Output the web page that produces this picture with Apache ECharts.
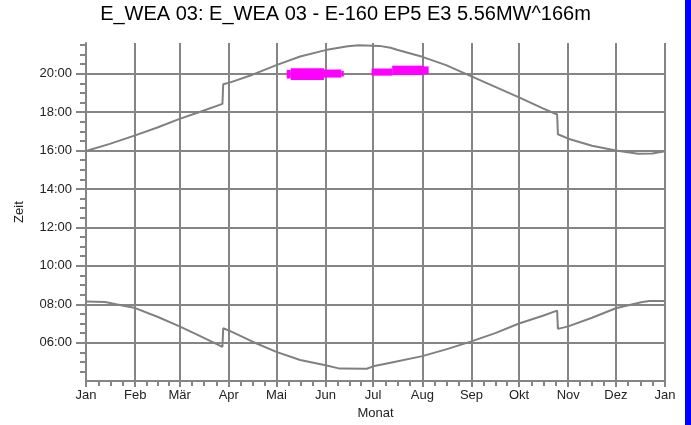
<!DOCTYPE html>
<html>
<head>
<meta charset="utf-8">
<script src="https://cdn.jsdelivr.net/npm/echarts@6/dist/echarts.min.js"></script>
<style>
  html, body { margin: 0; padding: 0; background: #fff; }
  #chart { width: 691px; height: 425px; }
</style>
</head>
<body>
<div id="chart"></div>
<script>
// x axis: day of year, y axis: hour of day
const monthNames = ["Jan", "Feb", "Mär", "Apr", "Mai", "Jun", "Jul", "Aug", "Sep", "Okt", "Nov", "Dez", "Jan"];
const monthStarts = [0, 31, 59, 90, 120, 151, 181, 212, 243, 273, 304, 334, 365];
const hourLabels = [6, 8, 10, 12, 14, 16, 18, 20];

// sunset (upper line)
const sunsetDays = [0, 15, 31, 45, 59, 73, 86, 86.5, 91, 105, 120, 135, 151, 165, 172, 185, 192, 196, 212, 227, 243, 258, 273, 288, 297, 297.5, 304, 319, 334, 348, 357, 365];
const sunsetTimes = [15.98, 16.35, 16.79, 17.2, 17.65, 18.05, 18.43, 19.45, 19.55, 19.95, 20.45, 20.9, 21.23, 21.43, 21.48, 21.45, 21.35, 21.25, 20.88, 20.45, 19.86, 19.32, 18.77, 18.2, 17.88, 16.85, 16.62, 16.25, 16.0, 15.83, 15.85, 15.97];

// sunrise (lower line)
const sunriseDays = [0, 12, 19, 31, 45, 59, 73, 86, 86.5, 91, 105, 120, 135, 151, 160, 177, 181, 192, 212, 227, 243, 258, 273, 288, 297, 297.5, 304, 319, 334, 350, 355, 365];
const sunriseTimes = [8.15, 8.12, 8.0, 7.8, 7.35, 6.85, 6.3, 5.78, 6.75, 6.6, 6.05, 5.52, 5.1, 4.82, 4.65, 4.64, 4.77, 4.96, 5.3, 5.65, 6.07, 6.5, 7.0, 7.4, 7.67, 6.72, 6.85, 7.3, 7.79, 8.1, 8.17, 8.17];

// shadow periods (magenta blocks)
const shadowFromDay = [126.5, 129, 150, 161, 180, 193, 213];
const shadowToDay = [129, 150, 161, 162.5, 193, 213, 216];
const shadowFromTime = [19.75, 19.68, 19.8, 19.85, 19.9, 19.93, 19.97];
const shadowToTime = [20.2, 20.28, 20.22, 20.15, 20.27, 20.42, 20.38];

const pad = (n) => (n < 10 ? "0" + n : "" + n);

const minorDays = [];
for (let i = 0; i < 12; i++) {
  const len = monthStarts[i + 1] - monthStarts[i];
  for (let k = 1; k < 4; k++) minorDays.push(monthStarts[i] + (len * k) / 4);
}
const halfHours = [];
for (let h = 4.5; h < 21.6; h += 0.5) halfHours.push(h);
const hourTicks = hourLabels.slice();

const sunsetData = sunsetDays.map((d, i) => [d, sunsetTimes[i]]);
const sunriseData = sunriseDays.map((d, i) => [d, sunriseTimes[i]]);
const shadowData = shadowFromDay.map((d, i) => [d, shadowToDay[i], shadowFromTime[i], shadowToTime[i]]);

const grey = "#858585";
const txt = { color: "#222", fontSize: 13, fontFamily: "Liberation Sans, Arial, sans-serif" };

const chart = echarts.init(document.getElementById("chart"));
chart.setOption({
  animation: false,
  backgroundColor: "#fff",
  title: {
    text: "E_WEA 03: E_WEA 03 - E-160 EP5 E3 5.56MW^166m",
    left: "center",
    top: 4,
    padding: 0,
    textStyle: { color: "#000", fontSize: 20, fontWeight: "normal", fontFamily: "Liberation Sans, Arial, sans-serif" },
  },
  grid: { left: 86, right: 26, top: 43, bottom: 38 },
  graphic: [
    { type: "rect", right: 0, top: 0, shape: { width: 6, height: 425 }, style: { fill: "#0000ff" } },
  ],
  xAxis: [
    {
      type: "value",
      min: 0,
      max: 365,
      name: "Monat",
      nameLocation: "middle",
      nameGap: 20,
      nameTextStyle: txt,
      axisLine: { show: true, onZero: false, lineStyle: { color: grey, width: 2 } },
      axisTick: { show: true, customValues: monthStarts, length: 6, lineStyle: { color: grey, width: 2 } },
      axisLabel: {
        customValues: monthStarts,
        margin: 8,
        formatter: (v) => monthNames[monthStarts.indexOf(v)],
        ...txt,
      },
      splitLine: { show: true, lineStyle: { color: grey, width: 2 } },
    },
    {
      type: "value",
      min: 0,
      max: 365,
      position: "bottom",
      axisLine: { show: false, onZero: false },
      axisTick: { show: true, customValues: minorDays, length: 5, lineStyle: { color: grey, width: 2 } },
      axisLabel: { show: false },
      splitLine: { show: false },
    },
  ],
  yAxis: [
    {
      type: "value",
      min: 4,
      max: 21.6,
      name: "Zeit",
      nameLocation: "middle",
      nameGap: 60,
      nameTextStyle: txt,
      axisLine: { show: true, onZero: false, lineStyle: { color: grey, width: 2 } },
      axisTick: { show: true, customValues: hourTicks, length: 10, lineStyle: { color: grey, width: 2 } },
      axisLabel: {
        customValues: hourLabels,
        margin: 14,
        formatter: (v) => pad(v) + ":00",
        ...txt,
      },
      splitLine: { show: true, lineStyle: { color: grey, width: 2 } },
    },
    {
      type: "value",
      min: 4,
      max: 21.6,
      position: "left",
      axisLine: { show: false, onZero: false },
      axisTick: { show: true, customValues: halfHours, length: 6, lineStyle: { color: grey, width: 2 } },
      axisLabel: { show: false },
      splitLine: { show: false },
    },
  ],
  series: [
    {
      name: "Sonnenuntergang",
      type: "line",
      data: sunsetData,
      showSymbol: false,
      lineStyle: { color: "#808080", width: 2 },
    },
    {
      name: "Sonnenaufgang",
      type: "line",
      data: sunriseData,
      showSymbol: false,
      lineStyle: { color: "#808080", width: 2 },
    },
    {
      name: "Schatten",
      type: "custom",
      data: shadowData,
      renderItem: (params, api) => {
        const p0 = api.coord([api.value(0), api.value(3)]);
        const p1 = api.coord([api.value(1), api.value(2)]);
        return {
          type: "rect",
          shape: { x: p0[0], y: p0[1], width: p1[0] - p0[0], height: p1[1] - p0[1] },
          style: { fill: "#ff00ff" },
        };
      },
    },
  ],
});
</script>
</body>
</html>
